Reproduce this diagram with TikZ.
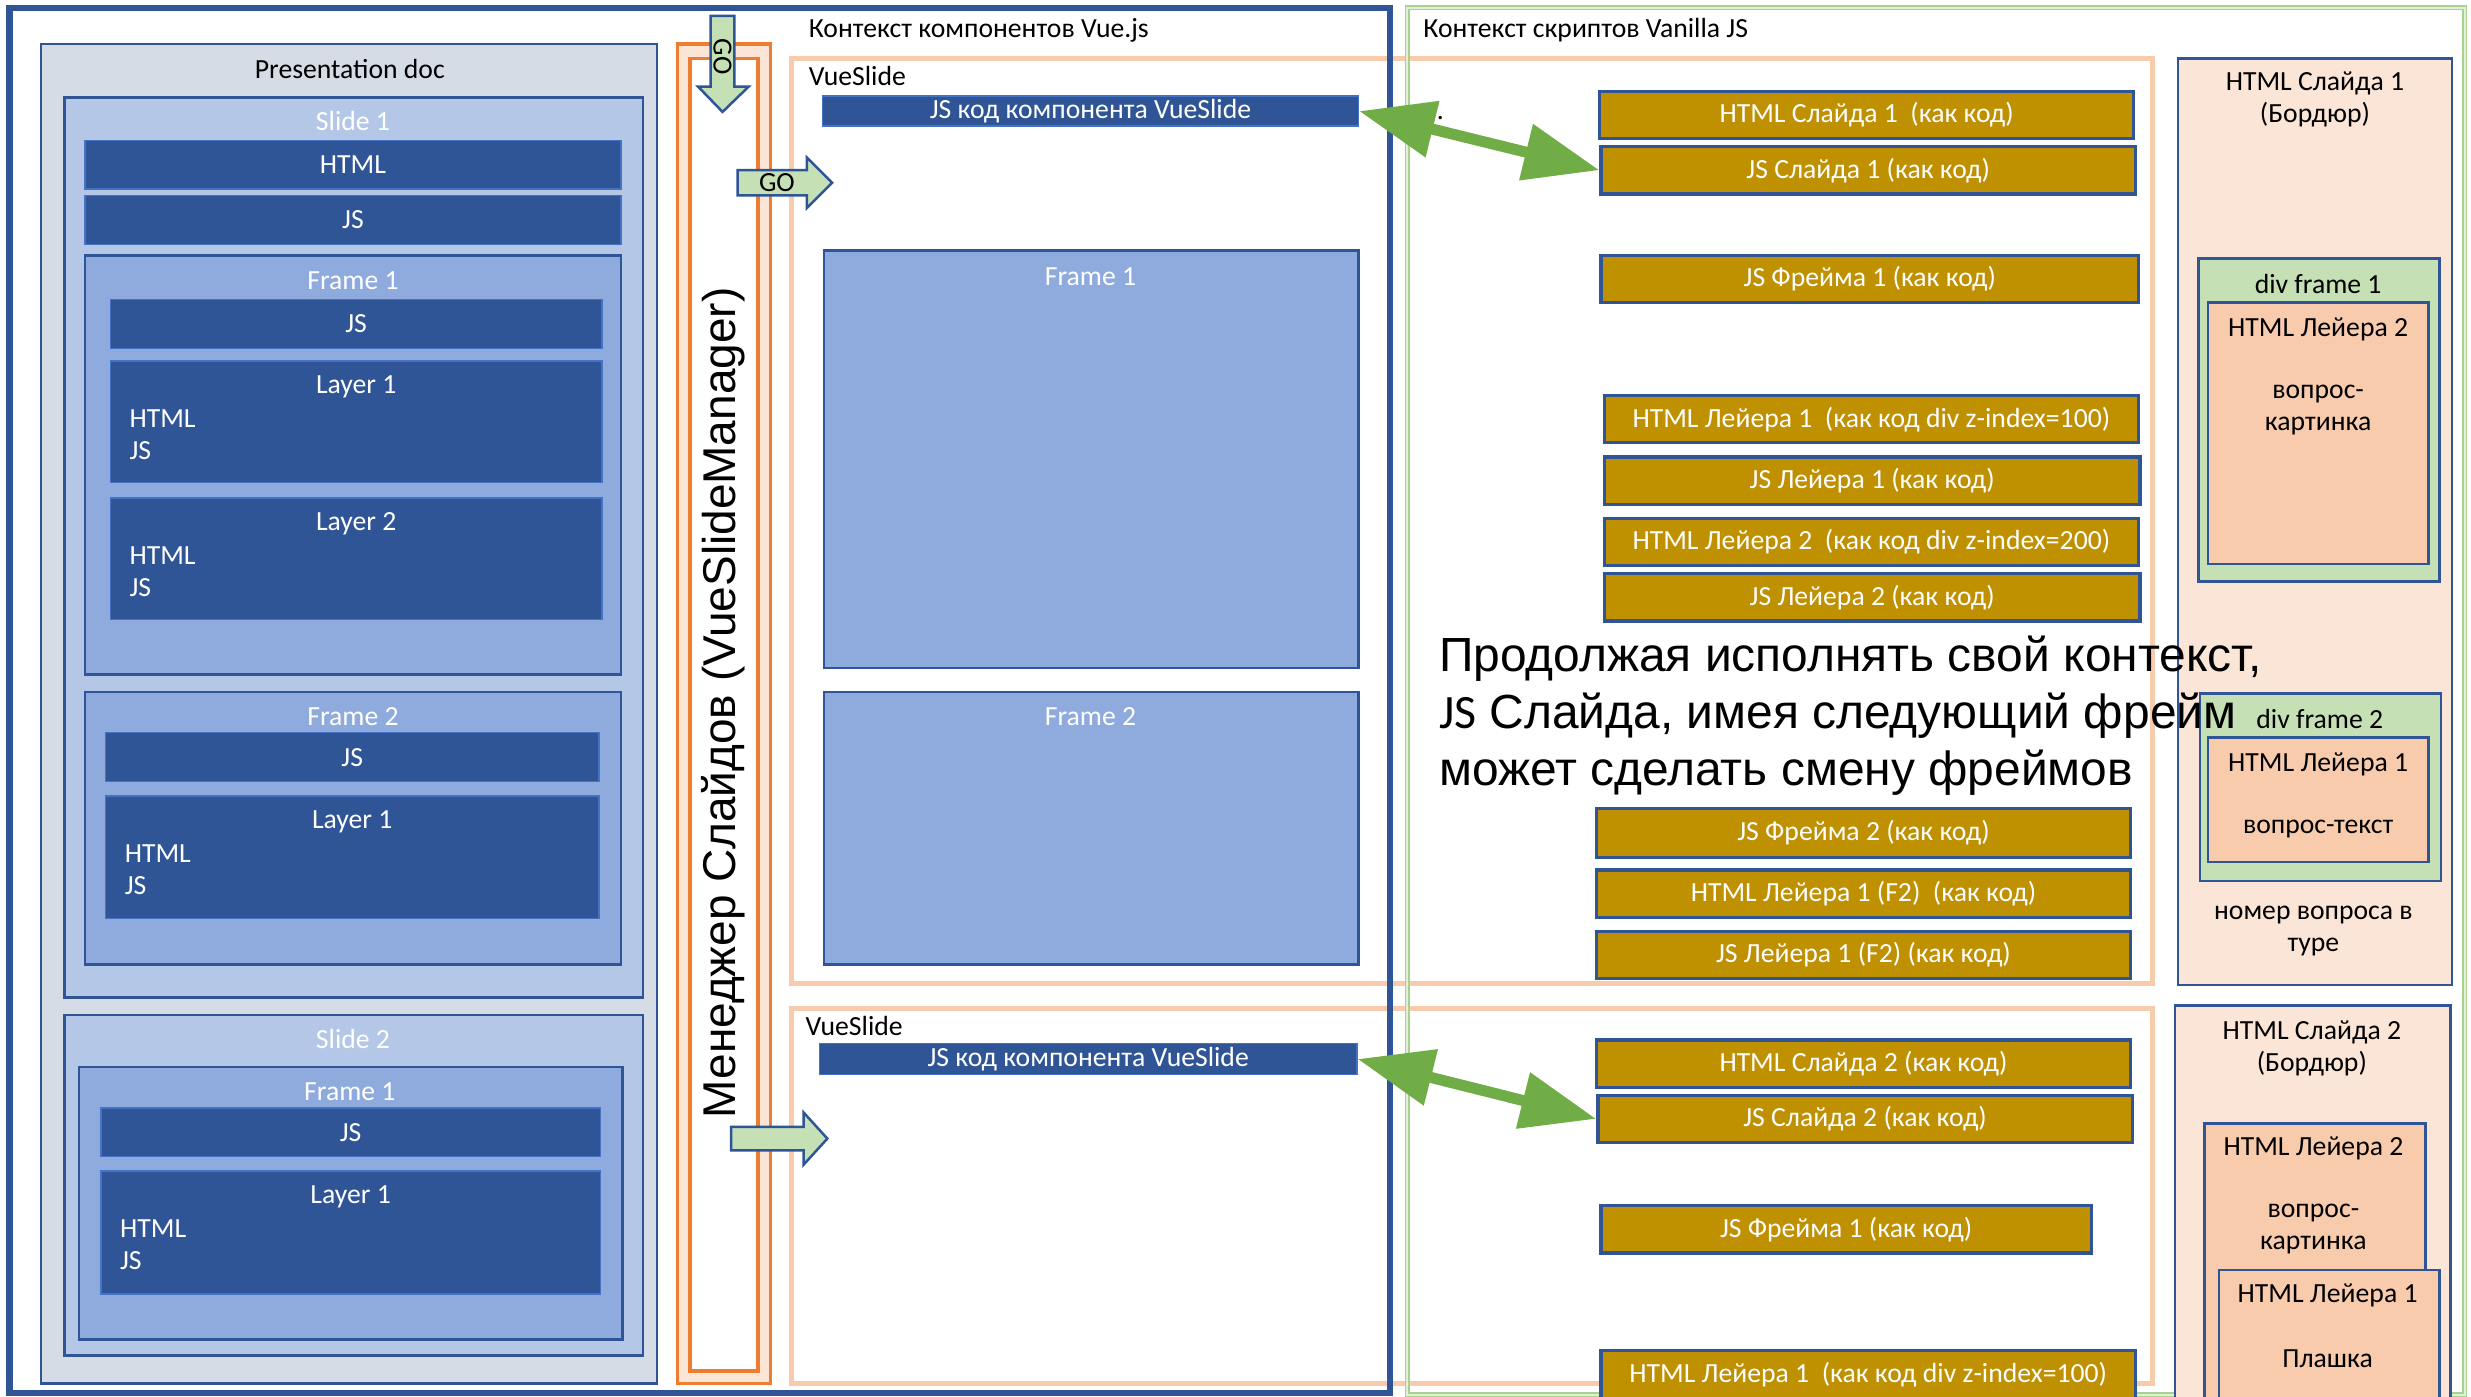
\documentclass[tikz,border=0pt]{standalone}
\usepackage{fontspec}
\setmainfont{Carlito}
\newfontfamily\arialfont{Liberation Sans}
\usetikzlibrary{arrows.meta, fit}
\definecolor{cdark}{HTML}{2F5597}
\definecolor{cbaredge}{HTML}{4472C4}
\definecolor{cdoc}{HTML}{D6DCE5}
\definecolor{cslide}{HTML}{B4C7E7}
\definecolor{cframe}{HTML}{8FAADC}
\definecolor{corange}{HTML}{ED7D31}
\definecolor{corangel}{HTML}{FBE5D6}
\definecolor{cpeach}{HTML}{F8CBAD}
\definecolor{cgold}{HTML}{BF9000}
\definecolor{cgreen}{HTML}{70AD47}
\definecolor{cgreenl}{HTML}{C5E0B4}
\definecolor{cgreenline}{HTML}{A9D18E}
\definecolor{cgreenpale}{HTML}{E2F0D9}
\tikzset{
  every picture/.style={font=\fontsize{10}{11.6}\selectfont},
  box/.style={draw=cdark, fill=#1, line width=0.9pt, inner sep=0pt},
  box/.default=cframe,
  bar/.style={draw=cbaredge, fill=cdark, inner sep=0pt, line width=0.5pt},
  codebar/.style={draw=cdark, fill=cgold, inner sep=0pt, line width=1.2pt},
  vueslide/.style={draw=cpeach, line width=1.8pt, inner sep=0pt},
  goarrow/.style={draw=cdark, fill=cgreenl, line width=0.9pt, line join=miter},
  linkarrow/.style={draw=cgreen, line width=0.14cm,
    {Triangle[length=0.96cm, width=0.7cm]}-{Triangle[length=0.96cm, width=0.7cm]}},
  wtitle/.style={text=white},
  bignote/.style={font=\arialfont\fontsize{17.3}{20.6}\selectfont},
}
\begin{document}
\begin{tikzpicture}[x=0.02cm, y=-0.02cm]
  \useasboundingbox (0,0) rectangle (1568,886);
  \clip (0,0) rectangle (1568,886);
  % presentation doc
  \node[box=cdoc, fit={(26,28) (417,878)}] (doc) {};
  \node (doc-t) at (222,44) {Presentation doc};
  \node[box=cslide, fit={(41,62) (408,633)}] (sl1) {};
  \node[wtitle] (sl1-t) at (224,77) {Slide 1};
  \node[box, fit={(54,162) (394,428)}] (sl1f1) {};
  \node[wtitle] (sl1f1-t) at (224,178) {Frame 1};
  \node[box, fit={(54,439) (394,612)}] (sl1f2) {};
  \node[wtitle] (sl1f2-t) at (224,455) {Frame 2};
  \node[box=cslide, fit={(41,644) (408,860)}] (sl2) {};
  \node[wtitle] (sl2-t) at (224,659) {Slide 2};
  \node[box, fit={(50,677) (395,850)}] (sl2f1) {};
  \node[wtitle] (sl2f1-t) at (222,693) {Frame 1};
  \foreach \n/\xa/\ya/\xb/\yb/\t in {sl1html/54/89/394/120/HTML, sl1js/54/124/394/155/JS,
      sl1f1js/70/190/382/221/JS, sl1f2js/67/465/380/496/JS, sl2f1js/64/703/381/734/JS} {
    \node[bar, fit={(\xa,\ya) (\xb,\yb)}] (\n) {};
    \node[wtitle] (\n-t) at (\n.center) {\t};
  }
  % layers
  \foreach \n/\xa/\ya/\xb/\yb/\t in {sl1f1l1/70/229/382/306/Layer 1, sl1f1l2/70/316/382/393/Layer 2,
      sl1f2l1/67/505/380/583/Layer 1, sl2f1l1/64/743/381/821/Layer 1} {
    \node[bar, fit={(\xa,\ya) (\xb,\yb)}] (\n) {};
    \node[wtitle] (\n-t) at ({(\xa+\xb)/2},{\ya+16.5}) {\t};
    \node[wtitle, anchor=west] (\n-h) at ({\xa+6},{\ya+36.5}) {HTML};
    \node[wtitle, anchor=west] (\n-j) at ({\xa+6},{\ya+57}) {JS};
  }
  % manager
  \node[draw=corange, fill=corangel, line width=1.3pt, inner sep=0pt, fit={(430,28) (489,878)}] (mgr) {};
  \node[draw=corange, fill=white, line width=1.3pt, inner sep=0pt, fit={(438,37) (481,870)}] (mgrin) {};
  \node[bignote, font=\arialfont\fontsize{16.6}{20}\selectfont, rotate=90] (mgr-t) at (459,446)
    {Менеджер Слайдов (VueSlideManager)};
  % vue slides
  \node[vueslide, fit={(502,37) (1366,624)}] (vs1) {};
  \node[anchor=west] (vs1-t) at (507,48.5) {VueSlide};
  \node[bar, fit={(522,61) (862,80)}] (vjs1) {};
  \node[wtitle] (vjs1-t) at (vjs1.center) {JS код компонента VueSlide};
  \node[box, fit={(523,159) (862,424)}] (vf1) {};
  \node[wtitle] (vf1-t) at (692,175.5) {Frame 1};
  \node[box, fit={(523,439) (862,612)}] (vf2) {};
  \node[wtitle] (vf2-t) at (692,455) {Frame 2};
  \node[vueslide, fit={(502,640) (1366,878)}] (vs2) {};
  \node[anchor=west] (vs2-t) at (505,651) {VueSlide};
  \node[bar, fit={(520,662) (861,682)}] (vjs2) {};
  \node[wtitle] (vjs2-t) at (vjs2.center) {JS код компонента VueSlide};
  % contexts
  \node[draw=cdark, line width=2.2pt, inner sep=0pt, fit={(6,5) (882,884)}] (vuectx) {};
  \node[anchor=west] (vuectx-t) at (507,19) {Контекст компонентов Vue.js};
  \node[draw=cgreenline, double=cgreenpale, double distance=0.8pt, line width=0.5pt, inner sep=0pt,
    fit={(893,5) (1564,885)}] (jsctx) {};
  \node[anchor=west] (jsctx-t) at (897,19) {Контекст скриптов Vanilla JS};
  % code bars
  \foreach \n/\xa/\ya/\xb/\yb/\t in {
      c1/1015/58/1354/88/HTML Слайда 1~~(как код),
      c2/1016/93/1355/123/JS Слайда 1 (как код),
      c3/1016/162/1357/192/JS Фрейма 1 (как код),
      c4/1018/251/1357/281/HTML Лейера 1~~(как код div z-index=100),
      c5/1018/290/1358/320/JS Лейера 1 (как код),
      c6/1018/329/1357/359/HTML Лейера 2~~(как код div z-index=200),
      c7/1018/364/1358/394/JS Лейера 2 (как код),
      c8/1013/513/1352/544/JS Фрейма 2 (как код),
      c9/1013/552/1352/582/HTML Лейера 1 (F2)~~(как код),
      c10/1013/591/1352/621/JS Лейера 1 (F2) (как код),
      c11/1013/660/1352/690/HTML Слайда 2 (как код),
      c12/1014/695/1353/725/JS Слайда 2 (как код),
      c13/1016/765/1327/795/JS Фрейма 1 (как код),
      c14/1016/857/1355/888/HTML Лейера 1~~(как код div z-index=100)} {
    \node[codebar, fit={(\xa,\ya) (\xb,\yb)}] (\n) {};
    \node[wtitle] (\n-t) at (\n.center) {\t};
  }
  % borders of slide 1
  \node[box=corangel, fit={(1382,37) (1556,625)}] (bord1) {};
  \node[align=center] (bord1-t) at (1469,63) {HTML Слайда 1\\(Бордюр)};
  \node[box=cgreenl, fit={(1395,164) (1548,369)}] (div1) {};
  \node (div1-t) at (1471,180) {div frame 1};
  \node[box=cpeach, fit={(1401,192) (1541,358)}] (div1l) {};
  \node (div1l-t) at (1471,209) {HTML Лейера 2};
  \node[align=center] (div1l-q) at (1471,260) {вопрос-\\картинка};
  \node[box=cgreenl, fit={(1396,440) (1549,559)}] (div2) {};
  \node (div2-t) at (1472,456) {div frame 2};
  \node[box=cpeach, fit={(1401,468) (1541,547)}] (div2l) {};
  \node (div2l-t) at (1471,485) {HTML Лейера 1};
  \node (div2l-q) at (1471,526) {вопрос-текст};
  \node[align=center] (tour) at (1468,591) {номер вопроса в\\туре};
  % borders of slide 2
  \node[box=corangel, fit={(1380,638) (1555,900)}] (bord2) {};
  \node[align=center] (bord2-t) at (1467,665.5) {HTML Слайда 2\\(Бордюр)};
  \node[box=cpeach, fit={(1399,713) (1539,900)}] (b2l2) {};
  \node (b2l2-t) at (1468,729) {HTML Лейера 2};
  \node[align=center] (b2l2-q) at (1468,780) {вопрос-\\картинка};
  \node[box=cpeach, fit={(1408,806) (1548,900)}] (b2l1) {};
  \node (b2l1-t) at (1477,822) {HTML Лейера 1};
  \node (b2l1-q) at (1477,862) {Плашка};
  % links
  \draw[linkarrow] (vjs1.east) -- (c2.west);
  \draw[linkarrow] (vjs2.east) -- (c12.west);
  \node[inner sep=0pt] (dot) at (914,75) {.};
  % GO arrows
  \draw[goarrow] (451,10) -- (466,10) -- (466,55) -- (475,55) -- (458.5,71) -- (443,55) -- (451,55) -- cycle;
  \node[rotate=-90] (go1) at (458.5,36) {GO};
  \draw[goarrow] (468,108) -- (512,108) -- (512,100) -- (528,116) -- (512,132) -- (512,124) -- (468,124) -- cycle;
  \node (go2) at (493,116) {GO};
  \draw[goarrow] (464,715) -- (510,715) -- (510,706) -- (525,722.5) -- (510,739) -- (510,730) -- (464,730) -- cycle;
  % note
  \node[bignote, align=left, anchor=west] (note) at (907,454)
    {Продолжая исполнять свой контекст,\\{\rmfamily JS} Слайда, имея следующий фрейм\\может сделать смену фреймов};
\end{tikzpicture}
\end{document}
